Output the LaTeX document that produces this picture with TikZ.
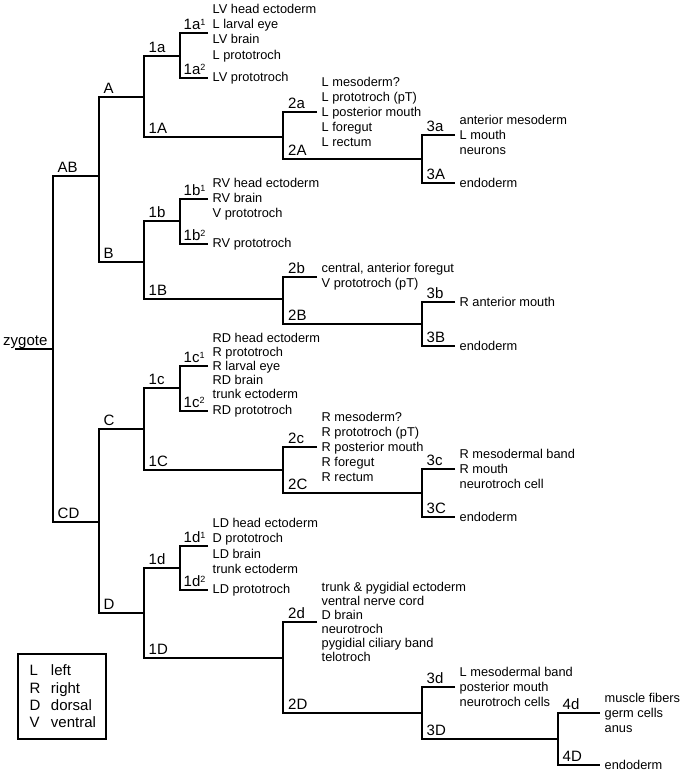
\documentclass[tikz,border=0pt]{standalone}
\usepackage{fontspec}
\setmainfont{Liberation Sans}
\newcommand{\supnum}[1]{\raisebox{4.5pt}{\fontsize{9}{9}\selectfont #1}}
\begin{document}
\begin{tikzpicture}[x=1pt,y=-1pt,
  br/.style={line width=1.8pt},
  lbl/.style={anchor=base west, inner sep=0pt, font=\fontsize{15}{18}\selectfont},
  fate/.style={anchor=west, inner sep=0pt, align=left, font=\fontsize{12.8}{15.2}\selectfont},
  fatet/.style={fate, font=\fontsize{12.8}{14}\selectfont}]
\useasboundingbox (0,0) rectangle (685,772);

% coordinates (split points / line ends)
\coordinate (zs) at (15,349);
\coordinate (z) at (53,349);
\coordinate (AB) at (99,176);
\coordinate (CD) at (99,522);
\coordinate (A) at (144,97);
\coordinate (B) at (144,262);
\coordinate (C) at (144,429);
\coordinate (D) at (144,613);
% A lineage
\coordinate (c1a) at (180,56);
\coordinate (c1A) at (283,137);
\coordinate (c1a1) at (208,33);
\coordinate (c1a2) at (208,78);
\coordinate (c2a) at (317,112);
\coordinate (c2A) at (422,159);
\coordinate (c3a) at (455,135);
\coordinate (c3A) at (455,183);
% B lineage
\coordinate (c1b) at (180,221);
\coordinate (c1B) at (283,299);
\coordinate (c1b1) at (208,199);
\coordinate (c1b2) at (208,244);
\coordinate (c2b) at (317,277);
\coordinate (c2B) at (422,324);
\coordinate (c3b) at (455,302);
\coordinate (c3B) at (455,346);
% C lineage
\coordinate (c1c) at (180,388);
\coordinate (c1C) at (283,470);
\coordinate (c1c1) at (208,366);
\coordinate (c1c2) at (208,411);
\coordinate (c2c) at (317,447);
\coordinate (c2C) at (422,493);
\coordinate (c3c) at (455,469);
\coordinate (c3C) at (455,517);
% D lineage
\coordinate (c1d) at (180,568);
\coordinate (c1D) at (283,658);
\coordinate (c1d1) at (208,546);
\coordinate (c1d2) at (208,590);
\coordinate (c2d) at (317,622);
\coordinate (c2D) at (422,713);
\coordinate (c3d) at (455,687);
\coordinate (c3D) at (558,739);
\coordinate (c4d) at (600,713);
\coordinate (c4D) at (600,765);

% branches
\draw[br] (zs) -- (z);
\draw[br] (AB) -| (z) |- (CD);
\draw[br] (A) -| (AB) |- (B);
\draw[br] (C) -| (CD) |- (D);
\draw[br] (c1a) -| (A) |- (c1A);
\draw[br] (c1a1) -| (c1a) |- (c1a2);
\draw[br] (c2a) -| (c1A) |- (c2A);
\draw[br] (c3a) -| (c2A) |- (c3A);
\draw[br] (c1b) -| (B) |- (c1B);
\draw[br] (c1b1) -| (c1b) |- (c1b2);
\draw[br] (c2b) -| (c1B) |- (c2B);
\draw[br] (c3b) -| (c2B) |- (c3B);
\draw[br] (c1c) -| (C) |- (c1C);
\draw[br] (c1c1) -| (c1c) |- (c1c2);
\draw[br] (c2c) -| (c1C) |- (c2C);
\draw[br] (c3c) -| (c2C) |- (c3C);
\draw[br] (c1d) -| (D) |- (c1D);
\draw[br] (c1d1) -| (c1d) |- (c1d2);
\draw[br] (c2d) -| (c1D) |- (c2D);
\draw[br] (c3d) -| (c2D) |- (c3D);
\draw[br] (c4d) -| (c3D) |- (c4D);

% cell labels
\node[lbl] (lzyg) at ([shift={(-12,-4)}] zs) {zygote};
\node[lbl] (lAB) at ([shift={(4.5,-3.5)}] z |- AB) {AB};
\node[lbl] (lCD) at ([shift={(4.5,-3.5)}] z |- CD) {CD};
\node[lbl] (lA) at ([shift={(4.5,-3.5)}] AB |- A) {A};
\node[lbl] (lB) at ([shift={(4.5,-3.5)}] AB |- B) {B};
\node[lbl] (lC) at ([shift={(4.5,-3.5)}] CD |- C) {C};
\node[lbl] (lD) at ([shift={(4.5,-3.5)}] CD |- D) {D};

\node[lbl] (l1a) at ([shift={(4.5,-3.5)}] A |- c1a) {1a};
\node[lbl] (l1A) at ([shift={(4.5,-3.5)}] A |- c1A) {1A};
\node[lbl] (l1a1) at ([shift={(3.5,-3.5)}] c1a |- c1a1) {1a\supnum{1}};
\node[lbl] (l1a2) at ([shift={(3.5,-3.5)}] c1a |- c1a2) {1a\supnum{2}};
\node[lbl] (l2a) at ([shift={(5,-3.5)}] c1A |- c2a) {2a};
\node[lbl] (l2A) at ([shift={(5,-3.5)}] c1A |- c2A) {2A};
\node[lbl] (l3a) at ([shift={(4.5,-3.5)}] c2A |- c3a) {3a};
\node[lbl] (l3A) at ([shift={(4.5,-3.5)}] c2A |- c3A) {3A};

\node[lbl] (l1b) at ([shift={(4.5,-3.5)}] B |- c1b) {1b};
\node[lbl] (l1B) at ([shift={(4.5,-3.5)}] B |- c1B) {1B};
\node[lbl] (l1b1) at ([shift={(3.5,-3.5)}] c1b |- c1b1) {1b\supnum{1}};
\node[lbl] (l1b2) at ([shift={(3.5,-3.5)}] c1b |- c1b2) {1b\supnum{2}};
\node[lbl] (l2b) at ([shift={(5,-3.5)}] c1B |- c2b) {2b};
\node[lbl] (l2B) at ([shift={(5,-3.5)}] c1B |- c2B) {2B};
\node[lbl] (l3b) at ([shift={(4.5,-3.5)}] c2B |- c3b) {3b};
\node[lbl] (l3B) at ([shift={(4.5,-3.5)}] c2B |- c3B) {3B};

\node[lbl] (l1c) at ([shift={(4.5,-3.5)}] C |- c1c) {1c};
\node[lbl] (l1C) at ([shift={(4.5,-3.5)}] C |- c1C) {1C};
\node[lbl] (l1c1) at ([shift={(3.5,-3.5)}] c1c |- c1c1) {1c\supnum{1}};
\node[lbl] (l1c2) at ([shift={(3.5,-3.5)}] c1c |- c1c2) {1c\supnum{2}};
\node[lbl] (l2c) at ([shift={(5,-3.5)}] c1C |- c2c) {2c};
\node[lbl] (l2C) at ([shift={(5,-3.5)}] c1C |- c2C) {2C};
\node[lbl] (l3c) at ([shift={(4.5,-3.5)}] c2C |- c3c) {3c};
\node[lbl] (l3C) at ([shift={(4.5,-3.5)}] c2C |- c3C) {3C};

\node[lbl] (l1d) at ([shift={(4.5,-3.5)}] D |- c1d) {1d};
\node[lbl] (l1D) at ([shift={(4.5,-3.5)}] D |- c1D) {1D};
\node[lbl] (l1d1) at ([shift={(3.5,-3.5)}] c1d |- c1d1) {1d\supnum{1}};
\node[lbl] (l1d2) at ([shift={(3.5,-3.5)}] c1d |- c1d2) {1d\supnum{2}};
\node[lbl] (l2d) at ([shift={(5,-3.5)}] c1D |- c2d) {2d};
\node[lbl] (l2D) at ([shift={(5,-3.5)}] c1D |- c2D) {2D};
\node[lbl] (l3d) at ([shift={(4.5,-3.5)}] c2D |- c3d) {3d};
\node[lbl] (l3D) at ([shift={(4.5,-3.5)}] c2D |- c3D) {3D};
\node[lbl] (l4d) at ([shift={(4.5,-3.5)}] c3D |- c4d) {4d};
\node[lbl] (l4D) at ([shift={(4.5,-3.5)}] c3D |- c4D) {4D};

% fates
\node[fate] (f1a1) at ([xshift=4.5pt] c1a1) {LV head ectoderm\\L larval eye\\LV brain\\L prototroch};
\node[fate] (f1a2) at ([xshift=4.5pt] c1a2) {LV prototroch};
\node[fate] (f2a) at ([xshift=4.5pt] c2a) {L mesoderm?\\L prototroch (pT)\\L posterior mouth\\L foregut\\L rectum};
\node[fate] (f3a) at ([xshift=4.5pt] c3a) {anterior mesoderm\\L mouth\\neurons};
\node[fate] (f3A) at ([xshift=4.5pt] c3A) {endoderm};

\node[fate] (f1b1) at ([xshift=4.5pt] c1b1) {RV head ectoderm\\RV brain\\V prototroch};
\node[fate] (f1b2) at ([xshift=4.5pt] c1b2) {RV prototroch};
\node[fate] (f2b) at ([xshift=4.5pt] c2b) {central, anterior foregut\\V prototroch (pT)};
\node[fate] (f3b) at ([xshift=4.5pt] c3b) {R anterior mouth};
\node[fate] (f3B) at ([xshift=4.5pt] c3B) {endoderm};

\node[fatet] (f1c1) at ([xshift=4.5pt] c1c1) {RD head ectoderm\\R prototroch\\R larval eye\\RD brain\\trunk ectoderm};
\node[fate] (f1c2) at ([xshift=4.5pt] c1c2) {RD prototroch};
\node[fate] (f2c) at ([xshift=4.5pt] c2c) {R mesoderm?\\R prototroch (pT)\\R posterior mouth\\R foregut\\R rectum};
\node[fate] (f3c) at ([xshift=4.5pt] c3c) {R mesodermal band\\R mouth\\neurotroch cell};
\node[fate] (f3C) at ([xshift=4.5pt] c3C) {endoderm};

\node[fate] (f1d1) at ([xshift=4.5pt] c1d1) {LD head ectoderm\\D prototroch\\LD brain\\trunk ectoderm};
\node[fate] (f1d2) at ([xshift=4.5pt] c1d2) {LD prototroch};
\node[fatet] (f2d) at ([xshift=4.5pt] c2d) {trunk \& pygidial ectoderm\\ventral nerve cord\\D brain\\neurotroch\\pygidial ciliary band\\telotroch};
\node[fate] (f3d) at ([xshift=4.5pt] c3d) {L mesodermal band\\posterior mouth\\neurotroch cells};
\node[fate] (f4d) at ([xshift=4.5pt] c4d) {muscle fibers\\germ cells\\anus};
\node[fate] (f4D) at ([xshift=4.5pt] c4D) {endoderm};

% legend
\node[draw, line width=1.5pt, minimum width=88pt, minimum height=85pt,
      inner xsep=11.5pt, text width=65pt, align=left,
      font=\fontsize{15}{17.3}\selectfont] (legend) at (62,696.5)
  {\makebox[21.5pt][l]{L}left\\\makebox[21.5pt][l]{R}right\\\makebox[21.5pt][l]{D}dorsal\\\makebox[21.5pt][l]{V}ventral};
\end{tikzpicture}
\end{document}
